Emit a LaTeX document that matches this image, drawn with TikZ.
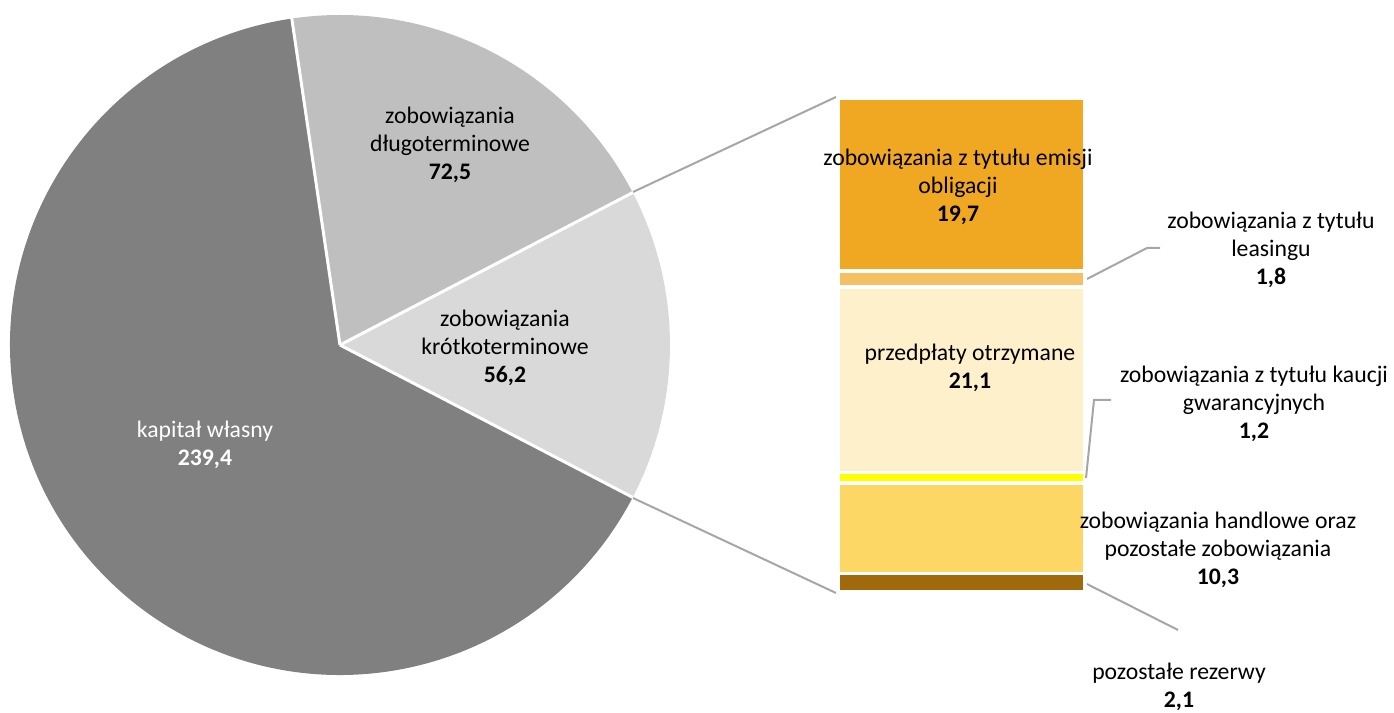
\documentclass[tikz,border=0pt]{standalone}
\usepackage{fontspec}
\setmainfont{Carlito}
\usepackage{tikz}
\usetikzlibrary{positioning}
\tikzset{
  font={\fontsize{13.5pt}{16pt}\selectfont}
}
\definecolor{colorK}{HTML}{808080}
\definecolor{colorD}{HTML}{BFBFBF}
\definecolor{colorS}{HTML}{D9D9D9}
\definecolor{colorE}{HTML}{F0A722}
\definecolor{colorL}{HTML}{F5C063}
\definecolor{colorP}{HTML}{FFF0CC}
\definecolor{colorG}{HTML}{FFFF00}
\definecolor{colorH}{HTML}{FDD766}
\definecolor{colorR}{HTML}{A06A0C}
\definecolor{colorLine}{HTML}{A6A6A6}
\tikzstyle{line}=[draw=colorLine, line width=0.04cm]
\tikzstyle{sep}=[draw=white, line width=0.06cm]
\tikzstyle{seg}=[draw=white, line width=0.07cm]
\tikzstyle{lab}=[align=center, inner sep=0pt]

\begin{document}
\begin{tikzpicture}[x=0.02cm, y=0.02cm]
\useasboundingbox (0,0) rectangle (1394,713);

%%% Pie
\coordinate (pie_c) at (340,368);
\fill[colorK] (pie_c) -- ++(98.4:330) arc[start angle=98.4, end angle=332.5, radius=330] -- cycle;
\fill[colorD] (pie_c) -- ++(27.5:330) arc[start angle=27.5, end angle=98.4, radius=330] -- cycle;
\fill[colorS] (pie_c) -- ++(-27.5:330) arc[start angle=-27.5, end angle=27.5, radius=330] -- cycle;
\draw[sep] (pie_c) -- ++(27.5:331);
\draw[sep] (pie_c) -- ++(98.4:331);
\draw[sep] (pie_c) -- ++(-27.5:331);

\node[lab] (dl_lab) at (450,568) {zobowiązania\\długoterminowe\\\textbf{72,5}};
\node[lab] (kr_lab) at (505,365) {zobowiązania\\krótkoterminowe\\\textbf{56,2}};
\node[lab,text=white] (kw_lab) at (205,268) {kapitał własny\\\textbf{239,4}};

%%% Bar
\filldraw[seg,fill=colorE] (838,615) rectangle (1085,441.8);
\filldraw[seg,fill=colorL] (838,441.8) rectangle (1085,426.0);
\filldraw[seg,fill=colorP] (838,426.0) rectangle (1085,240.5);
\filldraw[seg,fill=colorG] (838,240.5) rectangle (1085,230.0);
\filldraw[seg,fill=colorH] (838,230.0) rectangle (1085,139.4);
\filldraw[seg,fill=colorR] (838,139.4) rectangle (1085,121);

\coordinate (pie_top) at (633,521);
\coordinate (pie_bot) at (633,215);
\coordinate (bar_tl) at (836,616);
\coordinate (bar_bl) at (836,120);
\draw[line] (pie_top) -- (bar_tl);
\draw[line] (pie_bot) -- (bar_bl);

\node[lab] (em_lab) at (958,526) {zobowiązania z tytułu emisji\\obligacji\\\textbf{19,7}};
\node[lab] (le_lab) at (1271,463) {zobowiązania z tytułu\\leasingu\\\textbf{1,8}};
\node[lab] (pr_lab) at (970,345) {przedpłaty otrzymane\\\textbf{21,1}};
\node[lab] (ka_lab) at (1254,309) {zobowiązania z tytułu kaucji\\gwarancyjnych\\\textbf{1,2}};
\node[lab] (ha_lab) at (1218,163) {zobowiązania handlowe oraz\\pozostałe zobowiązania\\\textbf{10,3}};
\node[lab] (re_lab) at (1179,26) {pozostałe rezerwy\\\textbf{2,1}};

%%% Leader lines
\coordinate (le_pt) at (1087,434);
\coordinate (le_end) at (1160,465);
\coordinate (ka_pt) at (1086,235);
\coordinate (ka_end) at (1111,313);
\coordinate (re_pt) at (1087,129);
\coordinate (re_end) at (1178,83);
\draw[line] (le_pt) -- (1147,465) -- (le_end);
\draw[line] (ka_pt) -- (1094,313) -- (ka_end);
\draw[line] (re_pt) -- (re_end);

\end{tikzpicture}
\end{document}
